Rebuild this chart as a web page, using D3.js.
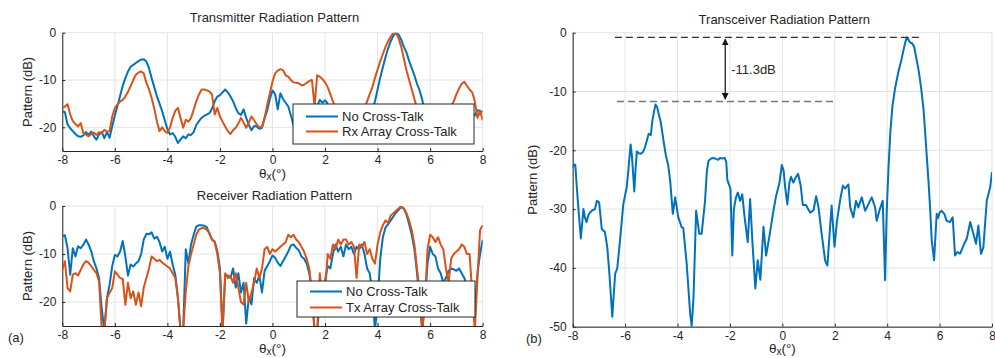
<!DOCTYPE html>
<html>
<head>
<meta charset="utf-8">
<script src="https://cdn.jsdelivr.net/npm/d3@7"></script>
<style>
  body { margin: 0; background: #fff; }
  text { font-family: "Liberation Sans", Arial, sans-serif; fill: #262626; }
</style>
</head>
<body>
<svg id="chart" width="995" height="358"></svg>
<script>
// sample angles of the left-hand measurements (deg), 0.1 deg step
const thetaGrid = d3.range(-80, 81).map(i => i / 10);
const xTickVals = [-8, -6, -4, -2, 0, 2, 4, 6, 8];
const leftYTicks = [-20, -10, 0];
const rightYTicks = [-50, -40, -30, -20, -10, 0];

// transmitter pattern (dB)
const txNoXt = [
  -16.6,-16.8,-19.4,-20.2,-20.8,-21.4,-21.9,-22.0,-21.7,-21.0,
  -21.6,-20.9,-21.9,-22.6,-21.5,-21.0,-22.3,-21.0,-22.2,-19.8,
  -17.5,-15.5,-13.3,-11.2,-9.6,-8.2,-7.2,-6.8,-6.4,-6.0,
  -5.7,-5.6,-6.1,-7.5,-9.6,-11.5,-13.4,-15.0,-16.6,-18.5,
  -20.4,-21.5,-21.2,-22.0,-23.3,-22.6,-21.9,-22.3,-21.5,-21.6,
  -21.0,-19.5,-18.7,-18.0,-17.6,-17.3,-17.0,-16.0,-14.5,-13.5,
  -13.2,-12.6,-12.0,-12.6,-13.5,-14.5,-15.9,-17.0,-17.4,-16.2,
  -18.0,-19.5,-20.6,-19.7,-19.8,-20.3,-20.1,-18.0,-16.4,-14.0,
  -12.2,-13.0,-16.2,-12.8,-14.0,-14.8,-15.6,-17.5,-19.5,-21.0,
  -21.0,-20.0,-19.0,-18.0,-17.0,-17.5,-16.0,-15.5,-14.2,-14.8,
  -14.3,-15.0,-16.0,-17.5,-19.0,-20.0,-21.0,-20.0,-19.0,-20.0,
  -21.0,-22.0,-21.0,-20.0,-19.5,-19.0,-18.5,-17.5,-16.2,-14.5,
  -12.0,-9.5,-7.3,-5.2,-3.3,-1.8,-0.6,0.0,-0.4,-1.5,
  -3.0,-4.2,-6.0,-7.5,-9.0,-10.8,-12.2,-14.2,-17.0,-19.5,
  -21.0,-22.0,-21.0,-20.0,-21.0,-22.0,-21.0,-20.0,-19.0,-20.0,
  -21.0,-22.0,-20.0,-19.0,-18.0,-18.0,-17.0,-17.5,-16.4,-16.5,
  -16.8];
const txRxXt = [
  -15.9,-15.6,-15.1,-17.3,-18.7,-19.3,-19.8,-19.1,-21.2,-21.5,
  -21.9,-21.4,-21.1,-21.6,-21.0,-21.3,-20.5,-20.9,-20.8,-17.7,
  -15.9,-15.2,-14.5,-14.2,-13.5,-12.5,-11.3,-10.0,-8.9,-8.4,
  -8.2,-8.6,-10.6,-12.0,-13.8,-16.0,-18.7,-20.8,-20.0,-20.8,
  -21.2,-20.0,-18.0,-16.5,-15.9,-18.0,-20.1,-18.4,-18.8,-18.0,
  -16.3,-14.5,-13.1,-12.0,-12.0,-12.2,-12.4,-13.1,-17.3,-15.9,
  -17.7,-18.8,-19.8,-20.8,-21.4,-20.6,-20.1,-19.2,-18.0,-19.0,
  -20.1,-19.0,-17.7,-18.5,-19.4,-20.0,-20.0,-18.0,-15.2,-12.8,
  -10.3,-8.6,-8.0,-7.7,-7.9,-9.0,-9.3,-10.0,-10.5,-10.6,
  -10.7,-11.1,-11.0,-10.6,-10.2,-10.0,-15.5,-9.0,-9.3,-9.8,
  -10.5,-11.5,-13.0,-14.5,-16.0,-18.0,-20.0,-21.0,-20.0,-19.0,
  -20.0,-21.0,-20.0,-19.0,-18.0,-16.0,-14.5,-13.0,-11.5,-9.5,
  -7.8,-6.0,-4.5,-3.0,-1.8,-0.8,-0.1,0.0,-1.2,-3.0,
  -5.5,-8.0,-10.0,-12.0,-14.0,-16.0,-18.0,-20.0,-21.0,-22.0,
  -21.0,-22.0,-21.0,-20.0,-21.0,-20.0,-19.0,-17.5,-15.5,-14.5,
  -13.0,-11.8,-10.8,-10.4,-11.2,-12.0,-12.6,-14.5,-18.0,-16.5,
  -18.5];

// receiver pattern (dB)
const rxNoXt = [
  -6.3,-6.1,-8.8,-14.3,-8.8,-10.5,-8.4,-8.8,-8.1,-7.0,
  -8.0,-9.4,-11.5,-13.0,-15.0,-21.3,-26.0,-19.2,-16.4,-12.5,
  -10.2,-10.5,-9.5,-7.3,-10.5,-14.5,-12.2,-12.6,-12.0,-11.5,
  -10.0,-7.0,-5.8,-5.9,-5.5,-6.8,-6.4,-7.5,-9.5,-8.5,
  -11.0,-9.5,-12.2,-14.3,-19.2,-26.0,-26.0,-9.0,-12.0,-8.0,
  -6.0,-4.3,-4.0,-4.0,-4.1,-4.4,-5.8,-7.0,-7.4,-9.4,
  -13.0,-26.0,-14.4,-14.5,-15.0,-13.0,-17.0,-14.0,-18.0,-16.0,
  -24.5,-19.0,-20.5,-15.0,-16.0,-14.5,-18.0,-13.5,-12.5,-11.5,
  -10.3,-10.8,-11.8,-12.5,-11.5,-10.5,-9.5,-8.2,-8.0,-8.7,
  -9.2,-10.5,-11.0,-12.0,-14.0,-18.0,-26.0,-26.0,-20.0,-17.0,
  -15.5,-12.5,-13.0,-10.0,-8.0,-9.5,-8.5,-10.5,-8.0,-9.0,
  -8.5,-10.0,-8.5,-9.0,-8.0,-10.0,-13.0,-14.0,-18.0,-26.0,
  -20.0,-11.0,-6.5,-4.5,-3.8,-3.0,-2.2,-1.4,-0.8,-0.2,
  -0.6,-1.8,-3.8,-6.0,-9.0,-14.0,-20.0,-26.0,-20.0,-12.0,
  -8.5,-10.0,-10.5,-13.0,-14.0,-16.0,-15.0,-13.5,-13.0,-13.2,
  -13.5,-13.0,-14.0,-15.0,-16.5,-17.5,-20.0,-22.0,-14.0,-10.0,
  -7.0];
const rxTxXt = [
  -13.3,-11.5,-17.1,-17.8,-14.3,-14.0,-14.5,-13.3,-12.2,-11.5,
  -11.8,-12.5,-13.3,-14.0,-15.7,-25.5,-26.0,-19.2,-18.1,-17.1,
  -13.6,-14.3,-15.0,-15.2,-20.6,-16.0,-19.2,-17.8,-20.6,-18.0,
  -20.9,-17.0,-15.0,-13.0,-10.5,-11.0,-11.5,-11.2,-11.8,-12.2,
  -12.6,-13.0,-14.0,-15.0,-19.0,-26.0,-26.0,-17.8,-12.5,-10.0,
  -8.0,-6.0,-4.9,-4.6,-4.6,-5.0,-5.6,-7.0,-7.5,-10.0,
  -14.0,-26.0,-14.0,-15.0,-14.5,-16.0,-14.0,-17.0,-20.0,-20.5,
  -16.0,-20.0,-18.0,-16.0,-13.0,-15.0,-13.0,-9.0,-8.5,-10.0,
  -9.0,-9.5,-9.0,-8.5,-8.0,-7.5,-6.0,-6.5,-6.0,-7.0,
  -7.5,-8.5,-9.5,-11.0,-13.0,-18.0,-26.0,-26.0,-14.0,-20.0,
  -18.0,-10.0,-11.0,-8.0,-9.0,-7.0,-8.0,-7.0,-7.0,-8.0,
  -7.5,-8.5,-15.0,-8.0,-8.5,-7.5,-10.0,-9.0,-11.0,-12.0,
  -8.0,-5.5,-4.0,-3.0,-3.5,-2.0,-1.5,-1.0,-0.5,0.0,
  -0.5,-1.5,-3.0,-5.0,-8.0,-13.0,-18.0,-26.0,-20.0,-9.0,
  -6.0,-6.5,-7.5,-6.5,-8.0,-9.0,-13.0,-16.0,-11.0,-10.0,
  -9.5,-9.0,-8.0,-8.5,-10.0,-10.0,-18.0,-26.0,-15.0,-5.0,
  -4.0];

// transceiver pattern: angle (deg) and level (dB)
const trxTheta = [
  -8.00,-7.95,-7.90,-7.84,-7.78,-7.69,-7.59,-7.53,-7.47,-7.40,-7.34,-7.25,-7.15,-7.08,-6.99,
  -6.89,-6.77,-6.68,-6.60,-6.49,-6.38,-6.30,-6.22,-6.07,-5.94,-5.88,-5.84,-5.79,-5.74,-5.70,
  -5.65,-5.60,-5.55,-5.48,-5.40,-5.32,-5.25,-5.18,-5.10,-5.02,-4.96,-4.90,-4.84,-4.78,-4.72,
  -4.64,-4.58,-4.52,-4.44,-4.36,-4.28,-4.18,-4.09,-3.97,-3.84,-3.78,-3.65,-3.52,-3.46,-3.39,
  -3.29,-3.17,-3.08,-2.95,-2.88,-2.82,-2.72,-2.62,-2.52,-2.45,-2.38,-2.30,-2.20,-2.14,-2.10,
  -2.04,-1.98,-1.91,-1.85,-1.77,-1.70,-1.61,-1.53,-1.44,-1.32,-1.23,-1.13,-1.03,-0.94,-0.84,
  -0.72,-0.62,-0.49,-0.36,-0.24,-0.11,-0.02,0.05,0.10,0.19,0.27,0.33,0.42,0.50,0.60,
  0.70,0.78,0.90,1.06,1.19,1.29,1.38,1.50,1.63,1.72,1.82,1.88,1.99,2.08,2.20,
  2.31,2.39,2.52,2.59,2.71,2.81,2.90,3.03,3.16,3.28,3.41,3.54,3.60,3.72,3.83,
  3.92,3.98,4.05,4.12,4.20,4.30,4.43,4.55,4.62,4.70,4.75,4.79,4.83,4.89,4.95,
  5.03,5.10,5.20,5.30,5.39,5.45,5.51,5.58,5.64,5.70,5.79,5.89,5.94,6.00,6.08,
  6.18,6.27,6.40,6.50,6.59,6.68,6.78,6.91,7.04,7.17,7.29,7.39,7.48,7.58,7.67,
  7.80,7.93,8.00];
const trxDb = [
  -23.0,-22.4,-22.5,-26.5,-30.0,-35.0,-30.0,-31.5,-32.2,-31.0,-30.6,-30.2,-30.0,-28.6,-28.9,
  -33.4,-33.9,-36.5,-41.0,-48.3,-41.0,-40.1,-36.5,-29.2,-26.3,-23.6,-21.5,-19.0,-21.0,-23.6,
  -27.0,-23.0,-20.2,-20.5,-20.6,-20.3,-19.6,-18.5,-17.2,-17.4,-15.0,-13.5,-12.2,-12.6,-13.8,
  -15.2,-17.0,-18.8,-21.0,-22.4,-25.2,-30.8,-28.0,-31.4,-33.1,-33.2,-39.3,-47.7,-49.9,-45.0,
  -30.3,-34.2,-34.2,-28.6,-23.5,-21.8,-21.4,-21.3,-21.5,-21.6,-21.3,-21.4,-21.3,-22.0,-25.0,
  -25.8,-26.5,-37.9,-30.0,-28.0,-27.2,-28.6,-27.5,-31.4,-35.6,-28.3,-36.5,-43.5,-38.7,-42.0,
  -33.0,-37.9,-34.5,-30.8,-27.8,-25.5,-22.5,-23.5,-26.0,-29.2,-25.5,-24.5,-25.5,-24.7,-24.0,
  -26.0,-29.3,-29.3,-30.6,-30.2,-27.8,-29.7,-34.2,-38.7,-39.6,-33.1,-29.4,-36.4,-32.2,-28.6,
  -26.0,-26.5,-25.8,-29.7,-31.4,-28.6,-29.7,-28.0,-30.3,-29.2,-28.0,-29.7,-32.0,-30.0,-28.6,
  -42.1,-30.8,-23.0,-17.0,-12.5,-9.5,-6.6,-4.5,-3.0,-1.5,-0.8,-0.9,-1.4,-1.7,-1.8,
  -2.4,-4.0,-6.4,-9.5,-13.2,-17.0,-21.0,-25.5,-30.0,-35.3,-38.7,-30.8,-31.5,-30.6,-30.3,
  -30.8,-32.0,-32.2,-31.4,-37.9,-37.3,-37.6,-36.2,-35.0,-32.2,-34.2,-35.9,-32.8,-37.6,-36.5,
  -28.6,-26.3,-23.7];

// sidelobe annotation (dB / deg)
const mainLobeLevel = -0.8;
const sideLobeLevel = -11.7;
const mainDashSpan = [-6.39, 5.26];
const sideDashSpan = [-6.31, 2.0];
const arrowTheta = -2.18;
const arrowSpan = [-1.1, -11.3];
const sllLabel = '-11.3dB';

const BLUE = '#0072BD', ORANGE = '#D95319';
const svg = d3.select('#chart');

function panel(cfg) {
  const x = d3.scaleLinear().domain([-8, 8]).range([cfg.left, cfg.right]);
  const y = d3.scaleLinear().domain(cfg.yDomain).range([cfg.bottom, cfg.top]);
  const g = svg.append('g');

  // grid
  g.append('g').selectAll('line').data(xTickVals).join('line')
    .attr('x1', d => x(d)).attr('x2', d => x(d))
    .attr('y1', cfg.top).attr('y2', cfg.bottom)
    .attr('stroke', '#e3e3e3').attr('stroke-width', 1);
  g.append('g').selectAll('line').data(cfg.yTicks).join('line')
    .attr('x1', cfg.left).attr('x2', cfg.right)
    .attr('y1', d => y(d)).attr('y2', d => y(d))
    .attr('stroke', '#e3e3e3').attr('stroke-width', 1);

  // axes
  const xa = g.append('g').attr('transform', `translate(0,${cfg.bottom})`)
    .call(d3.axisBottom(x).tickValues(xTickVals).tickFormat(d => String(d))
      .tickSizeInner(-3).tickSizeOuter(0).tickPadding(4.5));
  const ya = g.append('g').attr('transform', `translate(${cfg.left},0)`)
    .call(d3.axisLeft(y).tickValues(cfg.yTicks).tickFormat(d => String(d))
      .tickSizeInner(-3).tickSizeOuter(0).tickPadding(6));
  [xa, ya].forEach(a => {
    a.selectAll('path, line').attr('stroke', '#262626');
    a.selectAll('text').attr('font-size', 12).style('fill', '#262626')
      .attr('font-family', '"Liberation Sans", Arial, sans-serif');
  });

  // clip for curves
  const clipId = 'clip' + cfg.id;
  svg.append('clipPath').attr('id', clipId).append('rect')
    .attr('x', cfg.left).attr('y', cfg.top)
    .attr('width', cfg.right - cfg.left).attr('height', cfg.bottom - cfg.top);
  const lines = g.append('g').attr('clip-path', `url(#${clipId})`);
  cfg.series.forEach(s => {
    const pts = s.theta.map((t, i) => [t, s.values[i]]);
    lines.append('path').datum(pts)
      .attr('fill', 'none').attr('stroke', s.color).attr('stroke-width', 2)
      .attr('stroke-linejoin', 'round')
      .attr('d', d3.line().x(d => x(d[0])).y(d => y(d[1])));
  });

  // title
  g.append('text').attr('x', (cfg.left + cfg.right) / 2 + 2).attr('y', cfg.titleY)
    .attr('text-anchor', 'middle').attr('font-size', 13).text(cfg.title);
  // y label
  g.append('text').attr('transform', `translate(${cfg.yLabelX},${(cfg.top + cfg.bottom) / 2}) rotate(-90)`)
    .attr('text-anchor', 'middle').attr('font-size', 13).text('Pattern (dB)');
  // x label
  const xl = g.append('text').attr('x', (cfg.left + cfg.right) / 2).attr('y', cfg.xLabelY)
    .attr('text-anchor', 'middle').attr('font-size', 13.5);
  xl.append('tspan').text('θ');
  xl.append('tspan').attr('font-size', 10).attr('dy', 2).text('x');
  xl.append('tspan').attr('dy', -2).text('(°)');

  return {x, y, g};
}

function legend(g, box, rows) {
  g.append('rect').attr('x', box.x).attr('y', box.y).attr('width', box.w).attr('height', box.h)
    .attr('fill', '#fff').attr('stroke', '#262626').attr('stroke-width', 1);
  rows.forEach((r, i) => {
    const ry = box.y + box.pad + i * box.step;
    g.append('line').attr('x1', box.x + 13).attr('x2', box.x + 45)
      .attr('y1', ry).attr('y2', ry).attr('stroke', r.color).attr('stroke-width', 2);
    g.append('text').attr('x', box.x + 49).attr('y', ry + 4.5)
      .attr('font-size', 13).text(r.label);
  });
}

// (a) top: transmitter
const tx = panel({
  id: 'tx', left: 62.3, right: 482.7, top: 32.7, bottom: 151,
  yDomain: [-25, 0], yTicks: leftYTicks,
  title: 'Transmitter Radiation Pattern', titleY: 21.5, yLabelX: 32, xLabelY: 178,
  series: [
    {theta: thetaGrid, values: txNoXt, color: BLUE},
    {theta: thetaGrid, values: txRxXt, color: ORANGE}
  ]
});
legend(tx.g, {x: 293, y: 104, w: 181, h: 40, pad: 12.5, step: 15}, [
  {label: 'No Cross-Talk', color: BLUE},
  {label: 'Rx Array Cross-Talk', color: ORANGE}
]);

// (a) bottom: receiver
const rx = panel({
  id: 'rx', left: 62.3, right: 482.7, top: 206, bottom: 326,
  yDomain: [-25, 0], yTicks: leftYTicks,
  title: 'Receiver Radiation Pattern', titleY: 200, yLabelX: 32, xLabelY: 353,
  series: [
    {theta: thetaGrid, values: rxNoXt, color: BLUE},
    {theta: thetaGrid, values: rxTxXt, color: ORANGE}
  ]
});
legend(rx.g, {x: 297, y: 281, w: 178, h: 36, pad: 10.5, step: 16}, [
  {label: 'No Cross-Talk', color: BLUE},
  {label: 'Tx Array Cross-Talk', color: ORANGE}
]);

// (b) transceiver
const trx = panel({
  id: 'trx', left: 572.7, right: 992, top: 32.7, bottom: 326.7,
  yDomain: [-50, 0], yTicks: rightYTicks,
  title: 'Transceiver Radiation Pattern', titleY: 23.5, yLabelX: 537, xLabelY: 353,
  series: [{theta: trxTheta, values: trxDb, color: BLUE}]
});

// annotation
const ann = trx.g.append('g');
ann.append('line')
  .attr('x1', trx.x(mainDashSpan[0])).attr('x2', trx.x(mainDashSpan[1]))
  .attr('y1', trx.y(mainLobeLevel)).attr('y2', trx.y(mainLobeLevel))
  .attr('stroke', '#333').attr('stroke-width', 1.2).attr('stroke-dasharray', '7,4');
ann.append('line')
  .attr('x1', trx.x(sideDashSpan[0])).attr('x2', trx.x(sideDashSpan[1]))
  .attr('y1', trx.y(sideLobeLevel)).attr('y2', trx.y(sideLobeLevel))
  .attr('stroke', '#777').attr('stroke-width', 1.5).attr('stroke-dasharray', '7,4');

const defs = svg.append('defs');
defs.append('marker').attr('id', 'arrowHead').attr('viewBox', '0 0 10 10')
  .attr('refX', 9).attr('refY', 5).attr('markerWidth', 7).attr('markerHeight', 7)
  .attr('markerUnits', 'userSpaceOnUse').attr('orient', 'auto-start-reverse')
  .append('path').attr('d', 'M0,0 L10,5 L0,10 z').attr('fill', '#111');
ann.append('line')
  .attr('x1', trx.x(arrowTheta)).attr('x2', trx.x(arrowTheta))
  .attr('y1', trx.y(arrowSpan[0])).attr('y2', trx.y(arrowSpan[1]))
  .attr('stroke', '#111').attr('stroke-width', 1.2)
  .attr('marker-start', 'url(#arrowHead)').attr('marker-end', 'url(#arrowHead)');
ann.append('text').attr('x', trx.x(arrowTheta) + 6)
  .attr('y', trx.y((arrowSpan[0] + arrowSpan[1]) / 2) + 4.5)
  .attr('font-size', 13).text(sllLabel);

// panel tags
svg.append('text').attr('x', 8).attr('y', 342).attr('font-size', 13).text('(a)');
svg.append('text').attr('x', 526).attr('y', 343).attr('font-size', 13).text('(b)');
</script>
</body>
</html>
